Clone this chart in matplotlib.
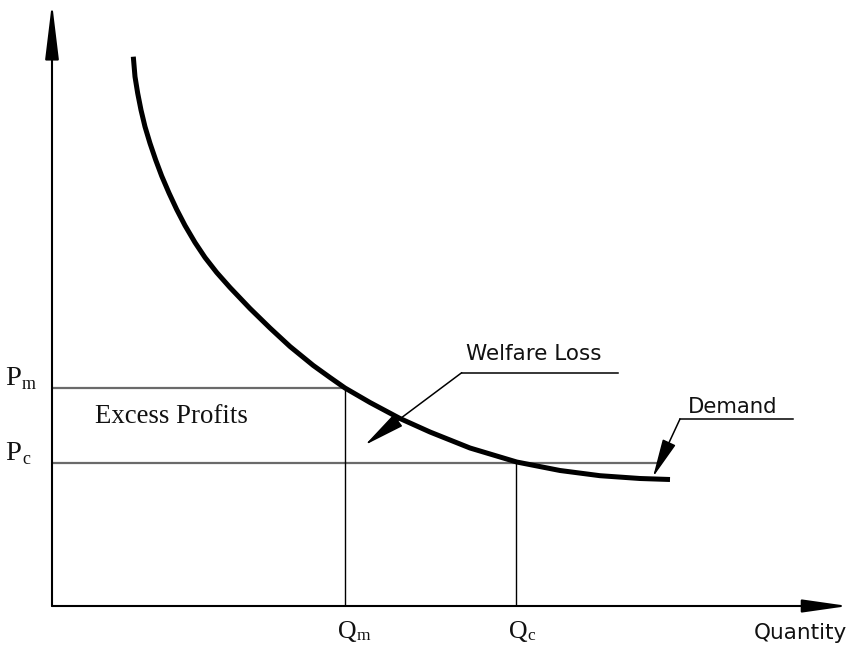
import matplotlib

matplotlib.use("Agg")
import matplotlib.pyplot as plt

# demand curve: (quantity, price) in arbitrary units
demand_q = [8.13, 8.30, 8.57, 8.90, 9.30, 9.80, 10.37, 10.97, 11.70, 12.47, 13.30,
            14.30, 15.30, 16.47, 17.80, 19.80, 21.80, 23.80, 26.13, 27.80, 29.30,
            31.80, 34.80, 37.80, 41.80, 46.47, 50.80, 54.80, 58.80, 61.80]
demand_p = [54.93, 52.93, 51.27, 49.60, 47.93, 46.27, 44.60, 43.00, 41.30, 39.65, 38.05,
            36.35, 34.85, 33.35, 31.85, 29.75, 27.80, 25.95, 24.05, 22.85, 21.80,
            20.35, 18.75, 17.40, 15.80, 14.40, 13.55, 13.03, 12.75, 12.65]

q_levels = [29.3, 46.4]      # Qm, Qc
p_levels = [21.8, 14.35]     # Pm, Pc
level_subs = ["m", "c"]
pc_line_end = 60.5           # Pc line runs out to the Demand pointer

SERIF = "Liberation Serif"
SANS = "DejaVu Sans"
INK = "#111111"

fig = plt.figure(figsize=(8.49, 6.45), dpi=100)
ax = fig.add_axes([0, 0, 1, 1])
ax.set_xlim(-5.2, 79.7)
ax.set_ylim(-3.9, 60.6)
ax.axis("off")


def arrow(ax, start, tip, hl, hw, lw):
    ax.annotate("", xy=tip, xytext=start,
                arrowprops=dict(arrowstyle=f"-|>,head_length={hl},head_width={hw}",
                                color="black", lw=lw, shrinkA=0, shrinkB=0,
                                mutation_scale=1))


# axes with arrow heads
arrow(ax, (0, 0), (0, 60.3), 34.5, 4.2, 1.5)
arrow(ax, (0, 0), (79.6, 0), 28, 4.0, 1.5)

# price levels (grey) and quantity drops (black)
pm, pc = p_levels
qm, qc = q_levels
ax.hlines(pm, 0, qm, color="#6a6a6a", lw=1.6, zorder=2)
ax.hlines(pc, 0, pc_line_end, color="#6a6a6a", lw=1.6, zorder=2)
ax.vlines(qm, 0, pm, color="black", lw=1.0, zorder=2)
ax.vlines(qc, 0, pc, color="black", lw=1.0, zorder=2)

# demand curve
ax.plot(demand_q, demand_p, color="black", lw=3.6, solid_capstyle="butt",
        solid_joinstyle="round", zorder=3)

# price labels
for p, sub, dy in zip(p_levels, level_subs, (2.4, 1.9)):
    ax.annotate("P", xy=(0, p), xytext=(-22.3, dy), textcoords="offset points",
                ha="right", va="baseline", fontsize=20.5, family=SERIF, color=INK)
    ax.annotate(sub, xy=(0, p), xytext=(-21.6, dy - 3.0), textcoords="offset points",
                ha="left", va="baseline", fontsize=13, family=SERIF, color=INK)

# quantity labels
for q, sub in zip(q_levels, level_subs):
    ax.annotate("Q", xy=(q, 0), xytext=(-5, -23), textcoords="offset points",
                ha="left", va="baseline", fontsize=18.5, family=SERIF, color=INK)
    ax.annotate(sub, xy=(q, 0), xytext=(8.3, -24.2), textcoords="offset points",
                ha="left", va="baseline", fontsize=12.5, family=SERIF, color=INK)

ax.text(70.2, -3.3, "Quantity", ha="left", va="baseline", fontsize=15.5, family=SANS,
        color=INK)
ax.text(4.3, 18.3, "Excess Profits", ha="left", va="baseline", fontsize=19.3,
        family=SERIF, color=INK)

# Welfare Loss callout
ax.text(41.4, 24.6, "Welfare Loss", ha="left", va="baseline", fontsize=15.5,
        family=SANS, color=INK)
ax.plot([56.6, 40.97], [23.33, 23.33], color="black", lw=1.1)
arrow(ax, (40.97, 23.33), (31.3, 16.1), 26, 4.6, 1.1)

# Demand callout
ax.text(63.6, 19.3, "Demand", ha="left", va="baseline", fontsize=15.3, family=SANS,
        color=INK)
ax.plot([74.1, 62.8], [18.7, 18.7], color="black", lw=1.1)
arrow(ax, (62.8, 18.7), (60.1, 12.9), 24, 4.4, 1.1)

fig.savefig("out.png", dpi=100)
